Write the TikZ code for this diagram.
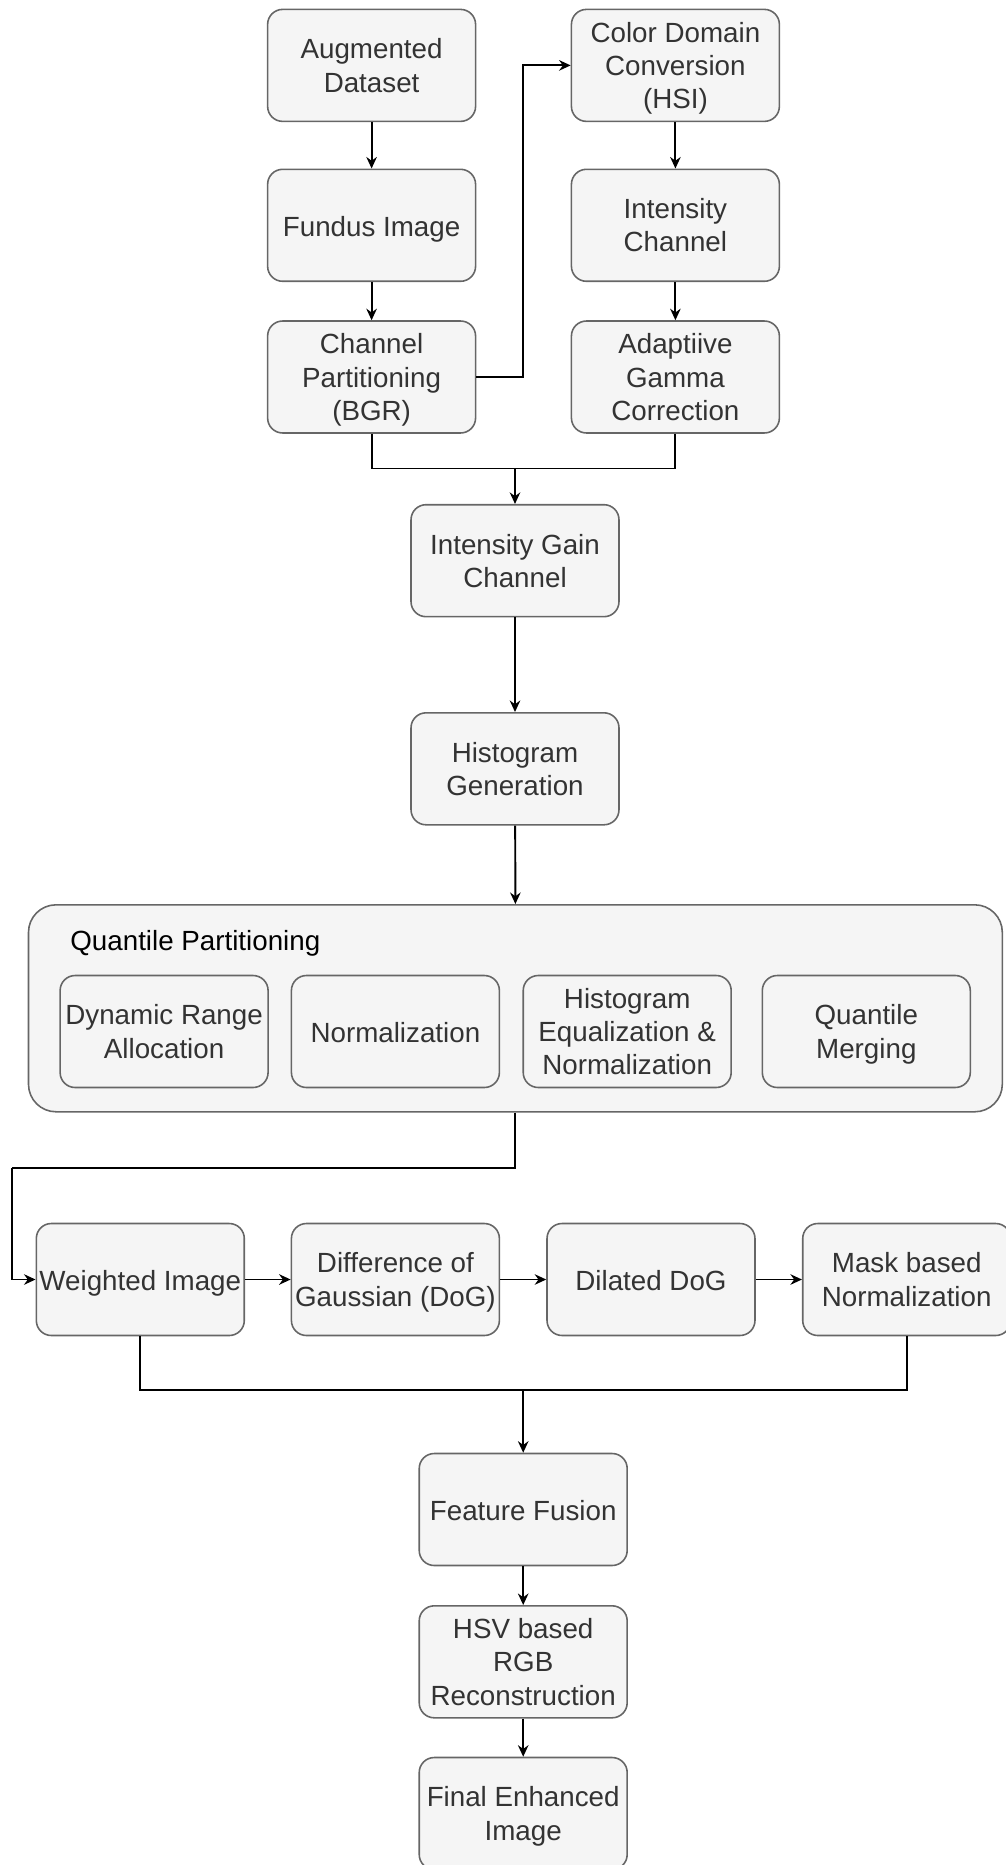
\documentclass[tikz,border=0pt]{standalone}
\usepackage{fontspec}
\setmainfont{Liberation Sans}
\usetikzlibrary{calc, positioning}
\usetikzlibrary{arrows.meta}

\definecolor{boxfill}{HTML}{F5F5F5}
\definecolor{boxline}{HTML}{666666}
\definecolor{boxtext}{HTML}{333333}

\newcommand{\boxstrut}{\rule[-3.8pt]{0pt}{18.9pt}}

\tikzset{
  procbox/.style={draw=boxline, fill=boxfill, line width=0.9pt, rounded corners=0.3cm,
    minimum width=4.16cm, minimum height=2.24cm, inner sep=1pt, align=center,
    text=boxtext, font=\fontsize{15.8}{18.9}\selectfont,
    execute at begin node=\boxstrut, text depth=2.6pt},
  multibox/.style={procbox, text depth=-1.2pt},
  groupbox/.style={draw=boxline, fill=boxfill, line width=0.9pt, rounded corners=0.55cm,
    minimum width=19.48cm, minimum height=4.14cm},
  arr/.style={line width=1.1pt, -{Stealth[length=2.3mm, width=2.1mm]}},
  link/.style={line width=1.1pt}
}

\begin{document}
\begin{tikzpicture}[x=0.02cm, y=-0.02cm]
\useasboundingbox (0,0) rectangle (1006,1865);
\def\colL{371.6}
\def\colR{675.4}
\def\colM{515}

% top two columns
\node[multibox] (aug) at (\colL,65.4) {Augmented\\Dataset};
\node[procbox] (fundus) at (\colL,225.3) {Fundus Image};
\node[multibox] (chan) at (\colL,377) {Channel\\Partitioning\\(BGR)};
\node[multibox] (color) at (\colR,65.4) {Color Domain\\Conversion\\(HSI)};
\node[multibox] (inten) at (\colR,225.3) {Intensity\\Channel};
\node[multibox] (gamma) at (\colR,377) {Adaptiive\\Gamma\\Correction};

\draw[arr] (aug) -- (fundus);
\draw[arr] (fundus) -- (chan);
\draw[arr] (color) -- (inten);
\draw[arr] (inten) -- (gamma);

\coordinate (bendR) at (523.2,377);
\draw[arr] (chan.east) -- (bendR) |- (color.west);

% middle column
\node[multibox] (gain) at (\colM,560.7) {Intensity Gain\\Channel};
\node[multibox] (hist) at (\colM,768.8) {Histogram\\Generation};

\coordinate (mergeA) at (\colM,468.5);
\draw[link] (chan.south) |- (mergeA);
\draw[link] (gamma.south) |- (mergeA);
\draw[arr] (mergeA) -- (gain.north);
\draw[arr] (gain) -- (hist);

% quantile group
\node[groupbox] (quant) at (515.4,1008.3) {};
\node[anchor=west, inner sep=0pt, font=\fontsize{15.8}{18.9}\selectfont] (qtitle) at (70,940.6) {\boxstrut Quantile Partitioning};
\node[multibox] (dyn) at (164.1,1031.5) {Dynamic Range\\Allocation};
\node[procbox] (norm) at (395.4,1031.5) {Normalization};
\node[multibox] (histeq) at (627.2,1031.5) {Histogram\\Equalization \&\\Normalization};
\node[multibox] (merge) at (866.3,1031.5) {Quantile\\Merging};

\draw[arr] (hist) -- (quant.north);

% bottom row
\node[procbox] (weighted) at (140.3,1279.5) {Weighted Image};
\node[multibox] (dog) at (395.4,1279.5) {Difference of\\Gaussian (DoG)};
\node[procbox] (dilated) at (651,1279.5) {Dilated DoG};
\node[multibox] (mask) at (906.7,1279.5) {Mask based\\Normalization};

\coordinate (bendL) at (11.9,1167.7);
\draw[link] (quant.south) |- (bendL);
\draw[arr] (bendL) |- (weighted.west);
\draw[arr] (weighted) -- (dog);
\draw[arr] (dog) -- (dilated);
\draw[arr] (dilated) -- (mask);

% output chain
\node[procbox] (fusion) at (523.2,1509.5) {Feature Fusion};
\node[multibox] (hsv) at (523.2,1661.8) {HSV based\\RGB\\Reconstruction};
\node[multibox] (final) at (523.2,1813.5) {Final Enhanced\\Image};

\coordinate (mergeB) at (523.2,1390);
\draw[link] (weighted.south) |- (mergeB);
\draw[link] (mask.south) |- (mergeB);
\draw[arr] (mergeB) -- (fusion.north);
\draw[arr] (fusion) -- (hsv);
\draw[arr] (hsv) -- (final);

\end{tikzpicture}
\end{document}
